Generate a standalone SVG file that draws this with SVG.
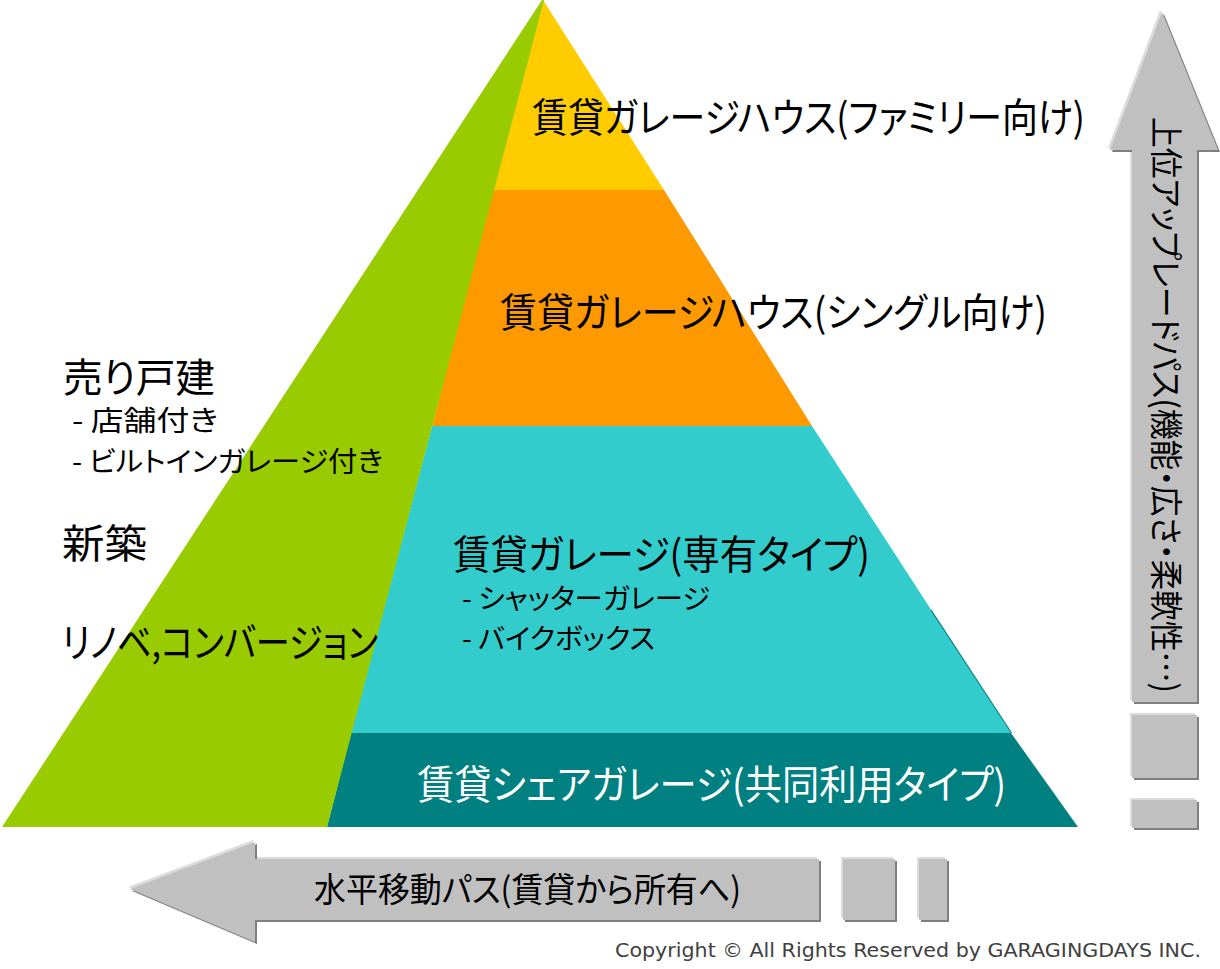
<svg xmlns="http://www.w3.org/2000/svg" width="1220" height="969" viewBox="0 0 1220 969">
<style>
.jp{font-family:"Noto Sans CJK JP","Noto Sans CJK SC",sans-serif;font-feature-settings:"palt";fill:#000}
.big{font-size:40px}
.sub{font-size:28px}
.wh{fill:#fff}
.hl{fill:#DCDCDC}
.sh{fill:#7F7F7F}
.mn{fill:#C0C0C0}
.cp{font-family:"DejaVu Sans","Liberation Sans",sans-serif;font-size:19px;fill:#404040}
</style>
<rect width="1220" height="969" fill="#fff"/>
<g id="pyramid">
  <g id="layer-family"><polygon points="543,0 664,190 493,190" fill="#FFCC00"/></g>
  <g id="layer-single"><polygon points="493,190 664,190 812,426 432,426" fill="#FF9900"/></g>
  <g id="layer-garage"><polygon points="432,426 812,426 1011,733 351,733" fill="#33CCCC"/>
    <line x1="931" y1="610" x2="1011.5" y2="733" stroke="#008080" stroke-width="1.2"/></g>
  <g id="layer-share"><polygon points="351,733 1011,733 1078,827 327,827" fill="#008080"/></g>
  <g id="layer-owned"><polygon points="542,0 544,0 327,827 2,827" fill="#99CC00"/></g>
</g>
<g id="labels">
  <text class="jp big" x="532" y="132" textLength="553" lengthAdjust="spacingAndGlyphs">賃貸ガレージハウス(ファミリー向け)</text>
  <text class="jp big" x="500" y="327" textLength="547" lengthAdjust="spacingAndGlyphs">賃貸ガレージハウス(シングル向け)</text>
  <text class="jp big" x="453" y="569" textLength="417" lengthAdjust="spacingAndGlyphs">賃貸ガレージ(専有タイプ)</text>
  <text class="jp sub" x="462" y="609" textLength="248" lengthAdjust="spacingAndGlyphs">- シャッターガレージ</text>
  <text class="jp sub" x="462" y="649" textLength="193" lengthAdjust="spacingAndGlyphs">- バイクボックス</text>
  <text class="jp big wh" x="417" y="799" textLength="589" lengthAdjust="spacingAndGlyphs">賃貸シェアガレージ(共同利用タイプ)</text>
  <text class="jp big" x="63" y="392" textLength="152" lengthAdjust="spacingAndGlyphs">売り戸建</text>
  <text class="jp sub" x="72" y="431" textLength="146" lengthAdjust="spacingAndGlyphs">- 店舗付き</text>
  <text class="jp sub" x="72" y="472" textLength="311" lengthAdjust="spacingAndGlyphs">- ビルトインガレージ付き</text>
  <text class="jp big" x="62" y="558" textLength="85" lengthAdjust="spacingAndGlyphs">新築</text>
  <text class="jp big" x="62" y="657" textLength="316" lengthAdjust="spacingAndGlyphs">リノベ,コンバージョン</text>
</g>
<g id="up-arrow">
  <g transform="translate(-2,-2)" class="hl">
    <polygon points="1162,12 1218,150 1197,150 1197,702 1132,702 1132,150 1110,150"/>
    <rect x="1132" y="715" width="65" height="63"/><rect x="1132" y="800" width="65" height="28"/>
  </g>
  <g transform="translate(2,2)" class="sh">
    <polygon points="1162,12 1218,150 1197,150 1197,702 1132,702 1132,150 1110,150"/>
    <rect x="1132" y="715" width="65" height="63"/><rect x="1132" y="800" width="65" height="28"/>
  </g>
  <g class="mn">
    <polygon points="1162,12 1218,150 1197,150 1197,702 1132,702 1132,150 1110,150"/>
    <rect x="1132" y="715" width="65" height="63"/><rect x="1132" y="800" width="65" height="28"/>
  </g>
  <text class="jp" font-size="33" transform="translate(1154,117) rotate(90)" x="0" y="0" textLength="576" lengthAdjust="spacingAndGlyphs">上位アップレードパス(機能・広さ・柔軟性…)</text>
</g>
<g id="left-arrow">
  <g transform="translate(-2,-2)" class="hl">
    <polygon points="130,889 255,842 255,859 819,859 819,920 255,920 255,942"/>
    <rect x="843" y="859" width="52" height="61"/><rect x="919" y="859" width="28" height="61"/>
  </g>
  <g transform="translate(2,2)" class="sh">
    <polygon points="130,889 255,842 255,859 819,859 819,920 255,920 255,942"/>
    <rect x="843" y="859" width="52" height="61"/><rect x="919" y="859" width="28" height="61"/>
  </g>
  <g class="mn">
    <polygon points="130,889 255,842 255,859 819,859 819,920 255,920 255,942"/>
    <rect x="843" y="859" width="52" height="61"/><rect x="919" y="859" width="28" height="61"/>
  </g>
  <text class="jp" font-size="34" x="314" y="902" textLength="427" lengthAdjust="spacingAndGlyphs">水平移動パス(賃貸から所有へ)</text>
</g>
<text class="cp" x="615" y="957" textLength="586" lengthAdjust="spacingAndGlyphs">Copyright © All Rights Reserved by GARAGINGDAYS INC.</text>
</svg>
